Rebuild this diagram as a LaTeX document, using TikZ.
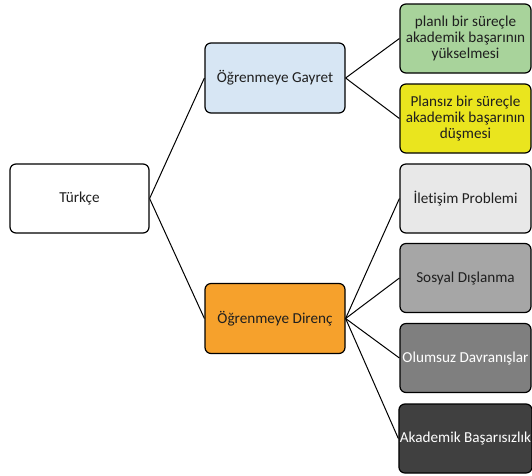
\documentclass[tikz,border=0pt]{standalone}
\usepackage{fontspec}
\setmainfont{Carlito}[Ligatures=NoCommon]
\definecolor{cblue}{HTML}{D7E6F4}
\definecolor{cgreen}{HTML}{A8D39B}
\definecolor{cyellow}{HTML}{EAE51E}
\definecolor{corange}{HTML}{F6A12C}
\definecolor{cg1}{HTML}{E8E8E8}
\definecolor{cg2}{HTML}{A6A6A6}
\definecolor{cg3}{HTML}{7F7F7F}
\definecolor{cg4}{HTML}{404040}
\tikzset{
  box/.style={draw=black, line width=1.2pt, rounded corners=6pt, align=center,
    font=\fontsize{15.2}{15.6}\selectfont, text=black!88, inner sep=1pt},
  mid/.style={box, minimum width=140pt, minimum height=70pt},
  leaf/.style={box, minimum width=131pt, minimum height=69pt},
  conn/.style={draw=black, line width=1pt}
}
\begin{document}
\begin{tikzpicture}[x=1pt,y=-1pt]
\useasboundingbox (0,0) rectangle (532,475);
\node[box, minimum width=139pt, minimum height=69pt, fill=white] (t) at (79.5,198.5) {Türkçe};
\node[mid, fill=cblue] (g) at (275,78) {Öğrenmeye Gayret};
\node[mid, fill=corange] (d) at (275,318.5) {Öğrenmeye Direnç};
\node[leaf, fill=cgreen] (l1) at (465.5,38.5) {planlı bir süreçle\\akademik başarının\\yükselmesi};
\node[leaf, fill=cyellow] (l2) at (465.5,118.5) {Plansız bir süreçle\\akademik başarının\\düşmesi};
\node[leaf, fill=cg1] (l3) at (465.5,198.5) {İletişim Problemi};
\node[leaf, fill=cg2] (l4) at (465.5,278) {Sosyal Dışlanma};
\node[leaf, fill=cg3, text=white] (l5) at (465.5,358) {Olumsuz Davranışlar};
\node[leaf, fill=cg4, text=white] (l6) at (465.5,438.5) {Akademik Başarısızlık};
\draw[conn] (t.east) -- (g.west);
\draw[conn] (t.east) -- (d.west);
\draw[conn] (g.east) -- (l1.west);
\draw[conn] (g.east) -- (l2.west);
\draw[conn] (d.east) -- (l3.west);
\draw[conn] (d.east) -- (l4.west);
\draw[conn] (d.east) -- (l5.west);
\draw[conn] (d.east) -- (l6.west);
\end{tikzpicture}
\end{document}
